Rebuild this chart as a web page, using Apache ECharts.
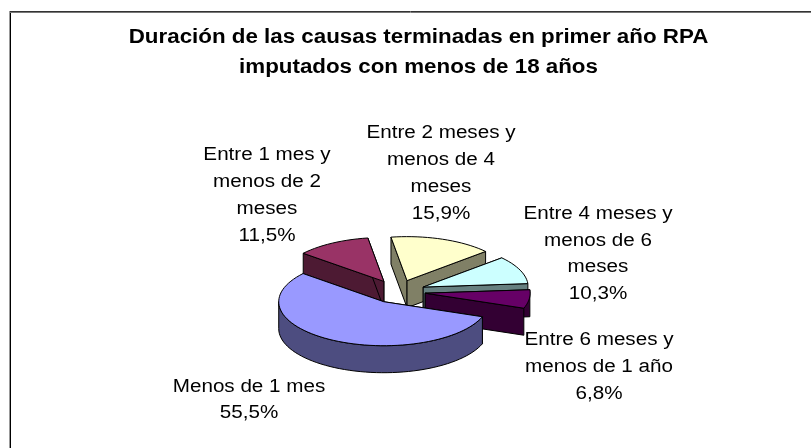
<!DOCTYPE html>
<html><head><meta charset="utf-8">
<style>html,body{margin:0;padding:0;background:#fff}#c{width:811px;height:448px}</style>
<script src="https://cdn.jsdelivr.net/npm/echarts@6/dist/echarts.min.js"></script>
</head><body><div id="c"></div>
<script>
const categories = ['Menos de 1 mes','Entre 1 mes y menos de 2 meses','Entre 2 meses y menos de 4 meses','Entre 4 meses y menos de 6 meses','Entre 6 meses y menos de 1 año'];
const values = [55.5, 11.5, 15.9, 10.3, 6.8];
const valueLabels = ['55,5%','11,5%','15,9%','10,3%','6,8%'];
const labelLines = [['Menos de 1 mes'],['Entre 1 mes y','menos de 2','meses'],['Entre 2 meses y','menos de 4','meses'],['Entre 4 meses y','menos de 6','meses'],['Entre 6 meses y','menos de 1 año']];
const titleText = 'Duración de las causas terminadas en primer año RPA\nimputados con menos de 18 años';
const topColors = ['#9999FF','#993366','#FFFFCC','#CCFFFF','#660066'];
const sideColors = ['#4D4D80','#4D1A33','#808066','#668080','#330033'];
const drawOrder = [4,0,1,2,3];
const labelPos = [[249,400],[267,195.5],[441,173.5],[598,254],[599,367]];
const P = {cx:397.6, cy:291.6, rx:105, ry:44, depth:27, explode:0.265, start:110};
const STRETCH = 1.146;
const total = values.reduce((a,b)=>a+b,0);
function pt(c, deg, r){const t=deg*Math.PI/180;return [c[0]+Math.sin(t)*r*P.rx, c[1]-Math.cos(t)*r*P.ry];}
function down(p){return [p[0],p[1]+P.depth];}
function arc(c,a,b){const n=Math.max(2,Math.ceil(Math.abs(b-a)/3));const o=[];for(let k=0;k<=n;k++)o.push(pt(c,a+(b-a)*k/n,1));return o;}
const edge={stroke:'#000',lineWidth:1,lineJoin:'round'};
function renderItem(params, api){
  const i=params.dataIndex, v=api.value(0);
  let before=0; for(let k=0;k<i;k++) before+=values[k];
  const a=P.start+before/total*360, b=a+v/total*360, mid=(a+b)/2;
  const c=pt([P.cx,P.cy],mid,P.explode);
  const z=drawOrder[i]*10+10, kids=[];
  const poly=(points,fill,zz)=>kids.push({type:'polygon',z2:zz,shape:{points},style:Object.assign({fill},edge)});
  [a,b].forEach(d=>{const e=pt(c,d,1);poly([c,e,down(e),down(c)],sideColors[i],z);});
  const ra=Math.max(a,90), rb=Math.min(b,270);
  if(rb>ra){const r=arc(c,ra,rb);poly(r.concat(r.map(down).reverse()),sideColors[i],z+1);}
  poly([c].concat(arc(c,a,b)),topColors[i],z+2);
  kids.push({type:'text',z2:200,x:labelPos[i][0],y:labelPos[i][1],scaleX:STRETCH,style:{text:labelLines[i].concat(valueLabels[i]).join('\n'),x:0,y:0,align:'center',verticalAlign:'middle',font:'18px "Liberation Sans"',lineHeight:26.7,fill:'#000'}});
  return {type:'group',children:kids};
}
const chart=echarts.init(document.getElementById('c'),null,{renderer:'canvas'});
chart.setOption({
  animation:false,
  backgroundColor:'#fff',
  graphic:[
    {type:'line',shape:{x1:9.5,y1:11,x2:9.5,y2:448},style:{stroke:'#999',lineWidth:1}},
    {type:'line',shape:{x1:10.5,y1:11,x2:10.5,y2:448},style:{stroke:'#000',lineWidth:1}},
    {type:'line',shape:{x1:10,y1:11.5,x2:811,y2:11.5},style:{stroke:'#333',lineWidth:1}},
    {type:'line',shape:{x1:10,y1:12.5,x2:811,y2:12.5},style:{stroke:'#777',lineWidth:1}},
    {type:'text',x:418.5,y:53,scaleX:STRETCH,style:{text:titleText,x:0,y:0,align:'center',verticalAlign:'middle',font:'bold 19.5px "Liberation Sans"',lineHeight:30,fill:'#000'}}
  ],
  series:[{type:'custom',coordinateSystem:'none',renderItem,data:values.map((v,i)=>({name:categories[i],value:[v]}))}]
});
</script></body></html>
